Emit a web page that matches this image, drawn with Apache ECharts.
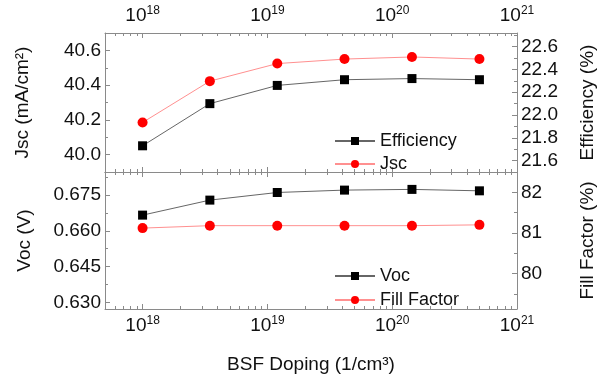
<!DOCTYPE html>
<html>
<head>
<meta charset="utf-8">
<script src="https://cdn.jsdelivr.net/npm/echarts@6/dist/echarts.min.js"></script>
<style>
html,body{margin:0;padding:0;background:#fff;}
#chart{width:605px;height:383px;}
</style>
</head>
<body>
<div id="chart"></div>
<script>
// ---- data ----
const doping = [1e18, 3.46e18, 1.2e19, 4.15e19, 1.44e20, 5e20];
const efficiency = [21.73, 22.10, 22.26, 22.31, 22.32, 22.31];
const jsc = [40.185, 40.423, 40.524, 40.550, 40.562, 40.550];
const voc = [0.6666, 0.6729, 0.6761, 0.6771, 0.6774, 0.6768];
const fillFactor = [81.12, 81.18, 81.18, 81.18, 81.18, 81.20];

// ---- tick labels ----
const xTicks = [1e18, 1e19, 1e20, 1e21];
const xMinorTicks = [6e17,7e17,8e17,9e17,
  2e18,3e18,4e18,5e18,6e18,7e18,8e18,9e18,
  2e19,3e19,4e19,5e19,6e19,7e19,8e19,9e19,
  2e20,3e20,4e20,5e20,6e20,7e20,8e20,9e20];
const jscTicks = [40.0, 40.2, 40.4, 40.6];
const jscMinor = [40.1, 40.3, 40.5];
const effTicks = [21.6, 21.8, 22.0, 22.2, 22.4, 22.6];
const effMinor = [21.7, 21.9, 22.1, 22.3, 22.5, 22.7];
const vocTicks = [0.630, 0.645, 0.660, 0.675];
const vocMinor = [0.6375, 0.6525, 0.6675, 0.6825];
const ffTicks = [80, 81, 82];
const ffMinor = [79.5, 80.5, 81.5];

const AX = '#8a8a8a';
const FONT = 'Liberation Sans, Arial, sans-serif';
const GL = 105, GR = 78, G0T = 33, G0H = 139, G1T = 172, G1H = 137;

function pair(xs, ys) { return xs.map((x, i) => [x, ys[i]]); }

function xAxis(grid, pos, opt) {
  return Object.assign({
    type: 'log', logBase: 10, gridIndex: grid, position: pos,
    min: 5e17, max: 1.00001e21,
    axisLine: { show: true, lineStyle: { color: AX, width: 1 } },
    axisTick: { show: true, inside: true, length: 5, lineStyle: { color: AX }, customValues: xTicks },
    axisLabel: { show: false },
    splitLine: { show: false }, minorTick: { show: false }, minorSplitLine: { show: false }
  }, opt || {});
}
function xMinor(grid, pos) {
  return xAxis(grid, pos, {
    axisLine: { show: false },
    axisTick: { show: true, inside: true, length: 3, lineStyle: { color: AX }, customValues: xMinorTicks }
  });
}
const xLabel = {
  show: true, customValues: xTicks, margin: 6, color: '#111', fontFamily: FONT,
  formatter: v => '{b|10}{s|' + Math.round(Math.log10(v)) + '}',
  rich: { b: { fontSize: 19, fontFamily: FONT, color: '#111', lineHeight: 22 },
          s: { fontSize: 12, fontFamily: FONT, color: '#111', verticalAlign: 'top', lineHeight: 13 } }
};

function yAxis(grid, pos, min, max, ticks, fmt, name, gap) {
  return {
    type: 'value', gridIndex: grid, position: pos, min: min, max: max,
    name: name, nameLocation: 'middle', nameRotate: 90, nameGap: gap,
    nameTextStyle: { fontSize: 19, fontFamily: FONT, color: '#111' },
    axisLine: { show: true, lineStyle: { color: AX, width: 1 } },
    axisTick: { show: true, inside: true, length: 5, lineStyle: { color: AX }, customValues: ticks },
    axisLabel: { show: true, customValues: ticks, formatter: fmt, fontSize: 19, fontFamily: FONT, color: '#111', margin: 4 },
    splitLine: { show: false }
  };
}
function yMinor(grid, pos, min, max, ticks) {
  return {
    type: 'value', gridIndex: grid, position: pos, min: min, max: max,
    axisLine: { show: false },
    axisTick: { show: true, inside: true, length: 3, lineStyle: { color: AX }, customValues: ticks },
    axisLabel: { show: false }, splitLine: { show: false }
  };
}

const option = {
  animation: false,
  backgroundColor: '#fff',
  grid: [
    { left: GL, right: GR, top: G0T, height: G0H, containLabel: false },
    { left: GL, right: GR, top: G1T, height: G1H, containLabel: false }
  ],
  xAxis: [
    xAxis(0, 'bottom'),
    xAxis(0, 'top', { axisLabel: xLabel }),
    xAxis(1, 'top'),
    xAxis(1, 'bottom', { axisLabel: xLabel,
      name: 'BSF Doping (1/cm³)', nameLocation: 'middle', nameGap: 46,
      nameTextStyle: { fontSize: 19, fontFamily: FONT, color: '#111' } }),
    xMinor(0, 'bottom'), xMinor(0, 'top'), xMinor(1, 'top'), xMinor(1, 'bottom')
  ],
  yAxis: [
    yAxis(0, 'left', 39.9, 40.7, jscTicks, v => v.toFixed(1), 'Jsc (mA/cm²)', 73),
    yAxis(0, 'right', 21.5, 22.72, effTicks, v => v.toFixed(1), 'Efficiency (%)', 61),
    yAxis(1, 'left', 0.6272, 0.6847, vocTicks, v => v.toFixed(3), 'Voc (V)', 71),
    yAxis(1, 'right', 79.13, 82.5, ffTicks, v => v.toFixed(0), 'Fill Factor (%)', 61),
    yMinor(0, 'left', 39.9, 40.7, jscMinor),
    yMinor(0, 'right', 21.5, 22.72, effMinor),
    yMinor(1, 'left', 0.6272, 0.6847, vocMinor),
    yMinor(1, 'right', 79.13, 82.5, ffMinor)
  ],
  legend: [
    { data: ['Efficiency', 'Jsc'], orient: 'vertical', left: 329, top: 127, itemWidth: 40, itemHeight: 10, itemGap: 5,
      textStyle: { fontSize: 18, fontFamily: FONT, color: '#111', lineHeight: 18 } },
    { data: ['Voc', 'Fill Factor'], orient: 'vertical', left: 329, top: 262, itemWidth: 40, itemHeight: 10, itemGap: 6,
      textStyle: { fontSize: 18, fontFamily: FONT, color: '#111', lineHeight: 18 } }
  ],
  series: [
    { name: 'Efficiency', type: 'line', xAxisIndex: 0, yAxisIndex: 1, data: pair(doping, efficiency),
      symbol: 'rect', symbolSize: 9, itemStyle: { color: '#000' }, lineStyle: { color: '#666', width: 1 } },
    { name: 'Jsc', type: 'line', xAxisIndex: 0, yAxisIndex: 0, data: pair(doping, jsc),
      symbol: 'circle', symbolSize: 10, itemStyle: { color: '#ff0000' }, lineStyle: { color: '#ff9090', width: 1 } },
    { name: 'Voc', type: 'line', xAxisIndex: 3, yAxisIndex: 2, data: pair(doping, voc),
      symbol: 'rect', symbolSize: 9, itemStyle: { color: '#000' }, lineStyle: { color: '#666', width: 1 } },
    { name: 'Fill Factor', type: 'line', xAxisIndex: 3, yAxisIndex: 3, data: pair(doping, fillFactor),
      symbol: 'circle', symbolSize: 10, itemStyle: { color: '#ff0000' }, lineStyle: { color: '#ff9090', width: 1 } }
  ]
};
const chart = echarts.init(document.getElementById('chart'), null, { renderer: 'canvas' });
chart.setOption(option);
</script>
</body>
</html>
